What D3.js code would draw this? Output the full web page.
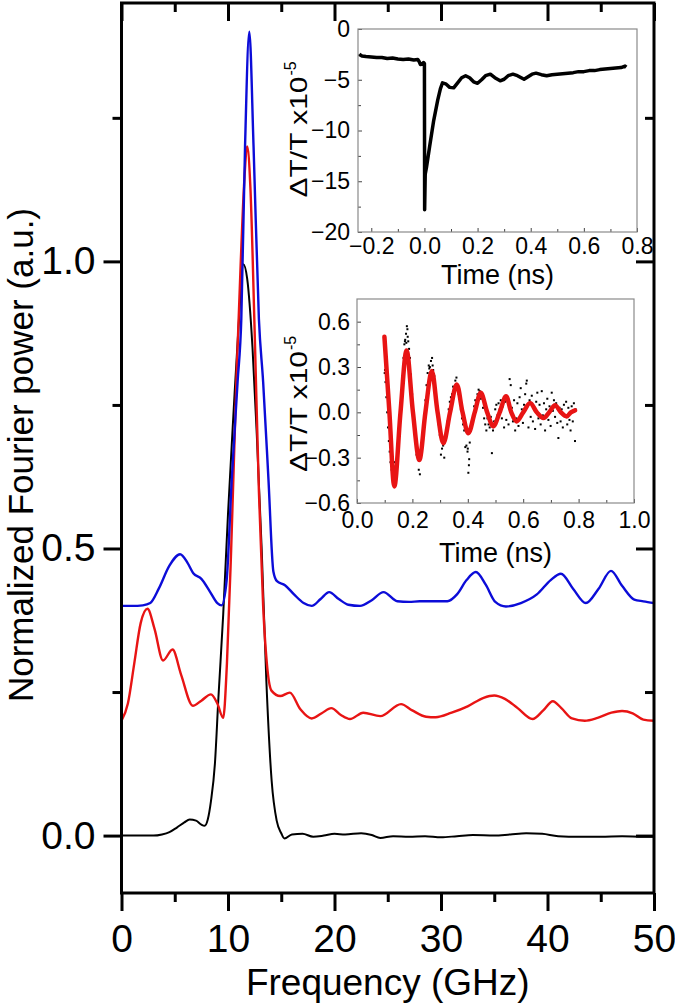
<!DOCTYPE html>
<html><head><meta charset="utf-8">
<script src="https://cdn.jsdelivr.net/npm/d3@7"></script>
<style>
body{margin:0;background:#fff}
svg{display:block}
text{font-family:"Liberation Sans",Arial,Helvetica,sans-serif;fill:#000}
</style>
</head><body>
<svg id="c" width="675" height="1005"></svg>
<script>
// ---------------- main chart data ----------------
const blackFreq = [0,1,2,3,3.8,4.5,5.2,5.9,6.4,7.0,7.5,7.8,8.1,8.4,8.77,9.1,9.55,10.0,10.5,11.0,11.44,11.8,12.3,12.7,13.16,13.6,14.1,14.57,15.0,15.3,16.0,17.0,18.0,19.0,20.0,21.0,22.5,23.5,24.3,25.5,27,28.5,30,31.5,33,35,36.5,38,39.5,41,43,45,47,49,50];
const blackValue = [0,0,0,0,0.002,0.006,0.014,0.023,0.028,0.026,0.019,0.017,0.028,0.06,0.125,0.24,0.385,0.56,0.73,0.89,0.995,0.97,0.85,0.7,0.5,0.27,0.095,0.026,0.004,-0.005,0.002,0.003,-0.002,0.0,0.003,0.002,0.004,0.001,-0.004,-0.001,-0.002,-0.001,-0.003,-0.001,0.001,0.0,0.002,0.004,0.003,-0.001,-0.002,-0.002,-0.001,-0.002,-0.002];

const redFreq = [0,0.6,1.2,1.8,2.44,3.1,3.9,4.79,5.6,6.7,7.5,8.4,9.0,9.55,9.9,10.3,10.8,11.2,11.5,11.8,12.1,12.5,12.9,13.3,13.7,14.1,14.9,15.8,16.8,17.86,18.8,19.7,20.6,21.45,22.7,24.3,26.25,27.3,28.6,29.5,31,32.5,34,35,36,37.2,38.6,39.6,40.5,41.3,42.3,43.5,44.7,46,47,48,49,50];
const redValue = [0.2,0.23,0.3,0.37,0.395,0.36,0.305,0.324,0.28,0.226,0.235,0.246,0.23,0.205,0.3,0.5,0.8,1.0,1.13,1.2,1.13,0.88,0.6,0.4,0.29,0.252,0.243,0.249,0.22,0.204,0.213,0.222,0.21,0.203,0.214,0.208,0.229,0.218,0.207,0.206,0.214,0.225,0.24,0.244,0.238,0.222,0.203,0.218,0.234,0.222,0.204,0.2,0.205,0.214,0.217,0.213,0.202,0.2];

const blueFreq = [0,1,2,2.7,3.5,4.5,5.5,6.2,6.74,7.5,8.3,9.0,9.4,9.87,10.34,10.9,11.25,11.6,12.0,12.4,12.9,13.3,13.8,14.26,14.6,15.35,16.2,17.1,17.86,18.7,19.5,20.4,21.3,22.4,23.5,24.6,25.9,27,28,30.6,31.5,32.4,33.27,34.2,35.1,36.1,37.5,39,40.3,41.26,42.4,43.6,44.8,45.96,47,48.15,49,50];
const blueValue = [0.4,0.4,0.401,0.405,0.43,0.47,0.49,0.475,0.457,0.447,0.425,0.405,0.401,0.444,0.616,0.79,0.9,1.2,1.40,1.2,0.9,0.79,0.62,0.46,0.443,0.436,0.42,0.405,0.4,0.412,0.424,0.412,0.402,0.4,0.41,0.424,0.408,0.407,0.408,0.408,0.42,0.445,0.459,0.437,0.407,0.399,0.405,0.42,0.445,0.456,0.43,0.405,0.43,0.461,0.435,0.411,0.408,0.405];

const xMajorTicks = [0,10,20,30,40,50];
const xMinorTicks = [5,15,25,35,45];
const yMajorTicks = [0,0.5,1.0];
const yMinorTicks = [0.25,0.75,1.25];

// ---------------- inset 1 data ----------------
const in1Time = [-0.245,-0.235,-0.22,-0.2,-0.18,-0.16,-0.14,-0.12,-0.1,-0.08,-0.06,-0.04,-0.025,-0.02,-0.015,-0.008,-0.003,0.0,0.0008,0.003,0.008,0.02,0.035,0.05,0.06,0.068,0.08,0.095,0.11,0.125,0.14,0.155,0.17,0.185,0.2,0.215,0.23,0.248,0.265,0.285,0.3,0.315,0.333,0.35,0.375,0.39,0.405,0.42,0.44,0.46,0.48,0.5,0.52,0.54,0.56,0.58,0.6,0.62,0.64,0.66,0.68,0.7,0.72,0.74,0.755,0.76];
const in1Value = [-2.5,-2.65,-2.7,-2.75,-2.8,-2.8,-2.9,-2.85,-2.95,-3.0,-2.95,-3.05,-3.0,-3.2,-3.5,-3.45,-3.3,-3.4,-17.8,-14.3,-13.6,-11.5,-9.0,-7.0,-5.9,-5.3,-5.4,-5.75,-5.8,-5.3,-4.8,-4.6,-4.8,-5.2,-5.35,-5.0,-4.6,-4.45,-4.8,-5.1,-4.95,-4.6,-4.45,-4.6,-4.95,-4.7,-4.45,-4.35,-4.5,-4.6,-4.5,-4.45,-4.4,-4.35,-4.3,-4.2,-4.2,-4.1,-4.1,-4.0,-3.95,-3.9,-3.85,-3.8,-3.65,-3.75];
const in1XTicks = [-0.2,0,0.2,0.4,0.6,0.8];
const in1XMinor = [-0.1,0.1,0.3,0.5,0.7];
const in1YTicks = [0,-5,-10,-15,-20];
const in1YMinor = [-2.5,-7.5,-12.5,-17.5];

// ---------------- inset 2 data ----------------
const fitTime = [0.099,0.117,0.135,0.157,0.179,0.202,0.225,0.247,0.270,0.291,0.312,0.336,0.360,0.381,0.402,0.425,0.447,0.470,0.492,0.515,0.538,0.557,0.576,0.600,0.625,0.649,0.673,0.694,0.715,0.736,0.757,0.772,0.787];
const fitValue = [0.50,0.0,-0.49,0.0,0.41,0.0,-0.315,0.0,0.273,0.0,-0.204,0.0,0.185,0.0,-0.138,0.0,0.129,0.0,-0.093,0.0,0.107,0.0,-0.06,0.0,0.062,0.0,-0.038,0.0,0.047,0.0,-0.027,0.0,0.013];
const dotData = [[0.100,0.26],[0.101,0.28],[0.103,0.20],[0.106,0.10],[0.109,0.00],[0.112,-0.10],[0.115,-0.19],[0.118,-0.26],[0.121,-0.33],[0.125,-0.38],[0.129,-0.42],[0.132,-0.36],[0.136,-0.33],[0.138,-0.36],[0.140,-0.38],[0.144,-0.30],[0.148,-0.22],[0.152,-0.10],[0.156,0.00],[0.160,0.12],[0.164,0.24],[0.168,0.36],[0.171,0.45],[0.173,0.47],[0.174,0.48],[0.177,0.52],[0.178,0.46],[0.180,0.57],[0.182,0.55],[0.183,0.50],[0.185,0.47],[0.188,0.42],[0.191,0.36],[0.195,0.25],[0.199,0.12],[0.203,0.00],[0.207,-0.10],[0.211,-0.20],[0.215,-0.28],[0.219,-0.25],[0.223,-0.38],[0.225,-0.30],[0.227,-0.41],[0.231,-0.30],[0.235,-0.22],[0.239,-0.12],[0.243,-0.02],[0.247,0.08],[0.251,0.18],[0.255,0.26],[0.259,0.31],[0.261,0.29],[0.263,0.30],[0.267,0.34],[0.271,0.36],[0.273,0.31],[0.275,0.28],[0.279,0.24],[0.283,0.16],[0.287,0.08],[0.291,0.00],[0.295,-0.08],[0.299,-0.15],[0.303,-0.28],[0.307,-0.24],[0.311,-0.22],[0.315,-0.30],[0.319,-0.18],[0.323,-0.12],[0.327,-0.06],[0.331,0.02],[0.335,0.07],[0.339,0.10],[0.343,0.12],[0.347,0.17],[0.351,0.15],[0.355,0.21],[0.359,0.23],[0.363,0.18],[0.367,0.12],[0.371,0.10],[0.375,0.02],[0.379,-0.04],[0.383,-0.08],[0.387,-0.12],[0.391,-0.23],[0.395,-0.22],[0.399,-0.26],[0.400,-0.24],[0.402,-0.40],[0.404,-0.35],[0.405,-0.31],[0.407,-0.20],[0.411,-0.12],[0.415,-0.06],[0.419,-0.02],[0.423,0.04],[0.427,0.08],[0.431,0.06],[0.435,0.12],[0.439,0.15],[0.443,0.14],[0.447,0.09],[0.451,0.10],[0.455,0.03],[0.459,-0.04],[0.463,-0.08],[0.467,-0.12],[0.471,-0.04],[0.475,-0.08],[0.479,-0.10],[0.483,-0.03],[0.487,-0.27],[0.491,-0.12],[0.495,-0.06],[0.499,0.02],[0.503,0.05],[0.507,-0.02],[0.511,0.06],[0.515,0.02],[0.519,0.08],[0.523,-0.04],[0.527,0.04],[0.531,-0.10],[0.535,0.07],[0.539,-0.05],[0.543,0.10],[0.547,-0.08],[0.551,0.22],[0.555,0.18],[0.559,0.03],[0.563,-0.06],[0.567,0.08],[0.571,-0.12],[0.575,-0.04],[0.579,0.06],[0.583,-0.09],[0.587,0.10],[0.591,0.16],[0.595,0.02],[0.599,-0.07],[0.603,0.05],[0.607,0.12],[0.611,0.19],[0.613,0.21],[0.615,0.04],[0.619,-0.10],[0.623,0.08],[0.627,-0.03],[0.631,0.11],[0.635,-0.06],[0.639,0.03],[0.643,-0.11],[0.647,0.07],[0.651,0.13],[0.655,-0.04],[0.659,0.05],[0.663,-0.08],[0.667,0.14],[0.671,-0.02],[0.675,0.06],[0.679,-0.12],[0.683,0.02],[0.687,0.09],[0.691,-0.05],[0.695,0.04],[0.699,-0.09],[0.703,0.13],[0.707,0.01],[0.711,0.08],[0.715,-0.03],[0.719,0.06],[0.723,-0.07],[0.727,-0.17],[0.731,0.03],[0.735,-0.06],[0.739,0.02],[0.743,-0.10],[0.747,0.05],[0.751,-0.02],[0.755,0.07],[0.759,-0.08],[0.763,0.03],[0.767,-0.05],[0.771,-0.12],[0.775,0.04],[0.779,-0.06],[0.783,0.06],[0.787,-0.19],[0.789,0.02]];
const in2XTicks = [0,0.2,0.4,0.6,0.8,1.0];
const in2XMinor = [0.1,0.3,0.5,0.7,0.9];
const in2YTicks = [-0.6,-0.3,0,0.3,0.6];
const in2YMinor = [-0.45,-0.15,0.15,0.45];

// ---------------- drawing ----------------
const FONT = '"Liberation Sans",Arial,Helvetica,sans-serif';
const svg = d3.select("#c");
const zip = (a,b) => a.map((v,i)=>[v,b[i]]);

const x = d3.scaleLinear().domain([0,50]).range([121.5,654]);
const y = d3.scaleLinear().domain([-0.1,1.45]).range([893,3]);

const mainLine = d3.line().x(d=>x(d[0])).y(d=>y(d[1])).curve(d3.curveMonotoneX);
svg.append("path").datum(zip(blackFreq,blackValue)).attr("d",mainLine)
  .attr("fill","none").attr("stroke","#000").attr("stroke-width",2);
svg.append("path").datum(zip(redFreq,redValue)).attr("d",mainLine)
  .attr("fill","none").attr("stroke","#e81414").attr("stroke-width",2.4);
svg.append("path").datum(zip(blueFreq,blueValue)).attr("d",mainLine)
  .attr("fill","none").attr("stroke","#0c0cd8").attr("stroke-width",2.4);

function styleMain(sel){
  sel.select(".domain").remove();
  sel.selectAll(".tick line").attr("stroke","#000").attr("stroke-width",3);
  sel.selectAll(".tick text").attr("font-size",39).attr("font-family",FONT).attr("fill","#000");
}
// bottom
svg.append("g").attr("transform","translate(0,893)")
  .call(d3.axisBottom(x).tickValues(xMajorTicks).tickSize(18).tickPadding(13).tickFormat(d3.format("d"))).call(styleMain);
svg.append("g").attr("transform","translate(0,893)")
  .call(d3.axisBottom(x).tickValues(xMinorTicks).tickSize(9).tickFormat("")).call(styleMain);
// top (inward)
svg.append("g").attr("transform","translate(0,3)")
  .call(d3.axisTop(x).tickValues(xMajorTicks).tickSize(-18).tickFormat("")).call(styleMain);
svg.append("g").attr("transform","translate(0,3)")
  .call(d3.axisTop(x).tickValues(xMinorTicks).tickSize(-9).tickFormat("")).call(styleMain);
// left
svg.append("g").attr("transform","translate(121.5,0)")
  .call(d3.axisLeft(y).tickValues(yMajorTicks).tickSize(18).tickPadding(8).tickFormat(d3.format(".1f"))).call(styleMain);
svg.append("g").attr("transform","translate(121.5,0)")
  .call(d3.axisLeft(y).tickValues(yMinorTicks).tickSize(9).tickFormat("")).call(styleMain);
// right (inward)
svg.append("g").attr("transform","translate(654,0)")
  .call(d3.axisRight(y).tickValues(yMajorTicks).tickSize(-18).tickFormat("")).call(styleMain);
svg.append("g").attr("transform","translate(654,0)")
  .call(d3.axisRight(y).tickValues(yMinorTicks).tickSize(-9).tickFormat("")).call(styleMain);
// frame
svg.append("rect").attr("x",x(0)).attr("y",y(1.45)).attr("width",x(50)-x(0)).attr("height",y(-0.1)-y(1.45))
  .attr("fill","none").attr("stroke","#000").attr("stroke-width",3);

svg.append("text").attr("x",(x(0)+x(50))/2).attr("y",995).attr("text-anchor","middle")
  .attr("font-size",37).text("Frequency (GHz)");
svg.append("text").attr("transform","translate(33,455) rotate(-90)").attr("text-anchor","middle")
  .attr("font-size",35).text("Normalized Fourier power (a.u.)");

// ---------------- insets ----------------
function inset(o){
  const xs = d3.scaleLinear().domain(o.xDom).range([o.x0,o.x1]);
  const ys = d3.scaleLinear().domain(o.yDom).range([o.y1,o.y0]);
  const g = svg.append("g");
  const st = sel => {
    sel.select(".domain").remove();
    sel.selectAll(".tick line").attr("stroke","#444").attr("stroke-width",1);
    sel.selectAll(".tick text").attr("font-size",23).attr("font-family",FONT).attr("fill","#000");
  };
  g.append("g").attr("transform",`translate(0,${o.y1})`)
    .call(d3.axisBottom(xs).tickValues(o.xT).tickSize(-4).tickPadding(o.xPad).tickFormat(o.xF)).call(st);
  g.append("g").attr("transform",`translate(0,${o.y1})`)
    .call(d3.axisBottom(xs).tickValues(o.xM).tickSize(-3).tickFormat("")).call(st);
  g.append("g").attr("transform",`translate(${o.x0},0)`)
    .call(d3.axisLeft(ys).tickValues(o.yT).tickSize(-4).tickPadding(o.yPad).tickFormat(o.yF)).call(st);
  g.append("g").attr("transform",`translate(${o.x0},0)`)
    .call(d3.axisLeft(ys).tickValues(o.yM).tickSize(-3).tickFormat("")).call(st);
  g.append("rect").attr("x",o.x0).attr("y",o.y0).attr("width",o.x1-o.x0).attr("height",o.y1-o.y0)
    .attr("fill","none").attr("stroke","#8a8a8a").attr("stroke-width",1.2);
  g.append("text").attr("x",(o.x0+o.x1)/2).attr("y",o.titleY).attr("text-anchor","middle")
    .attr("font-size",27).text("Time (ns)");
  const cy = (o.y0+o.y1)/2 + o.labOff;
  const lab = g.append("g").attr("transform",`translate(307,${cy}) rotate(-90)`);
  lab.append("text").attr("x",-67).attr("y",0).attr("font-size",24)
    .attr("textLength",121).attr("lengthAdjust","spacingAndGlyphs").text("\u0394T/T x10");
  lab.append("text").attr("x",55).attr("y",-11).attr("font-size",16).text("-5");
  return {xs,ys,g};
}

const A = inset({x0:358,x1:637,y0:29,y1:232,xDom:[-0.25,0.8],yDom:[-20,0],
  xT:in1XTicks,xM:in1XMinor,yT:in1YTicks,yM:in1YMinor,xPad:6,yPad:8,
  xF:d3.format(".1f"),yF:d3.format("d"),titleY:284,labOff:0});
A.g.append("path").datum(zip(in1Time,in1Value))
  .attr("d",d3.line().x(d=>A.xs(d[0])).y(d=>A.ys(d[1])))
  .attr("fill","none").attr("stroke","#000").attr("stroke-width",3.5).attr("stroke-linejoin","round");

const B = inset({x0:357,x1:634,y0:299,y1:503,xDom:[0,1.0],yDom:[-0.6,0.75],
  xT:in2XTicks,xM:in2XMinor,yT:in2YTicks,yM:in2YMinor,xPad:9,yPad:7,
  xF:d3.format(".1f"),yF:d3.format(".1f"),titleY:562,labOff:4});
B.g.selectAll("rect.dot").data(dotData).join("rect").attr("class","dot")
  .attr("x",d=>B.xs(d[0])-1).attr("y",d=>B.ys(d[1])-1).attr("width",2).attr("height",2).attr("fill","#000");
B.g.append("path").datum(zip(fitTime,fitValue))
  .attr("d",d3.line().x(d=>B.xs(d[0])).y(d=>B.ys(d[1])).curve(d3.curveCatmullRom.alpha(0.5)))
  .attr("fill","none").attr("stroke","#e81414").attr("stroke-width",4.5).attr("stroke-linecap","round");
</script>
</body></html>
